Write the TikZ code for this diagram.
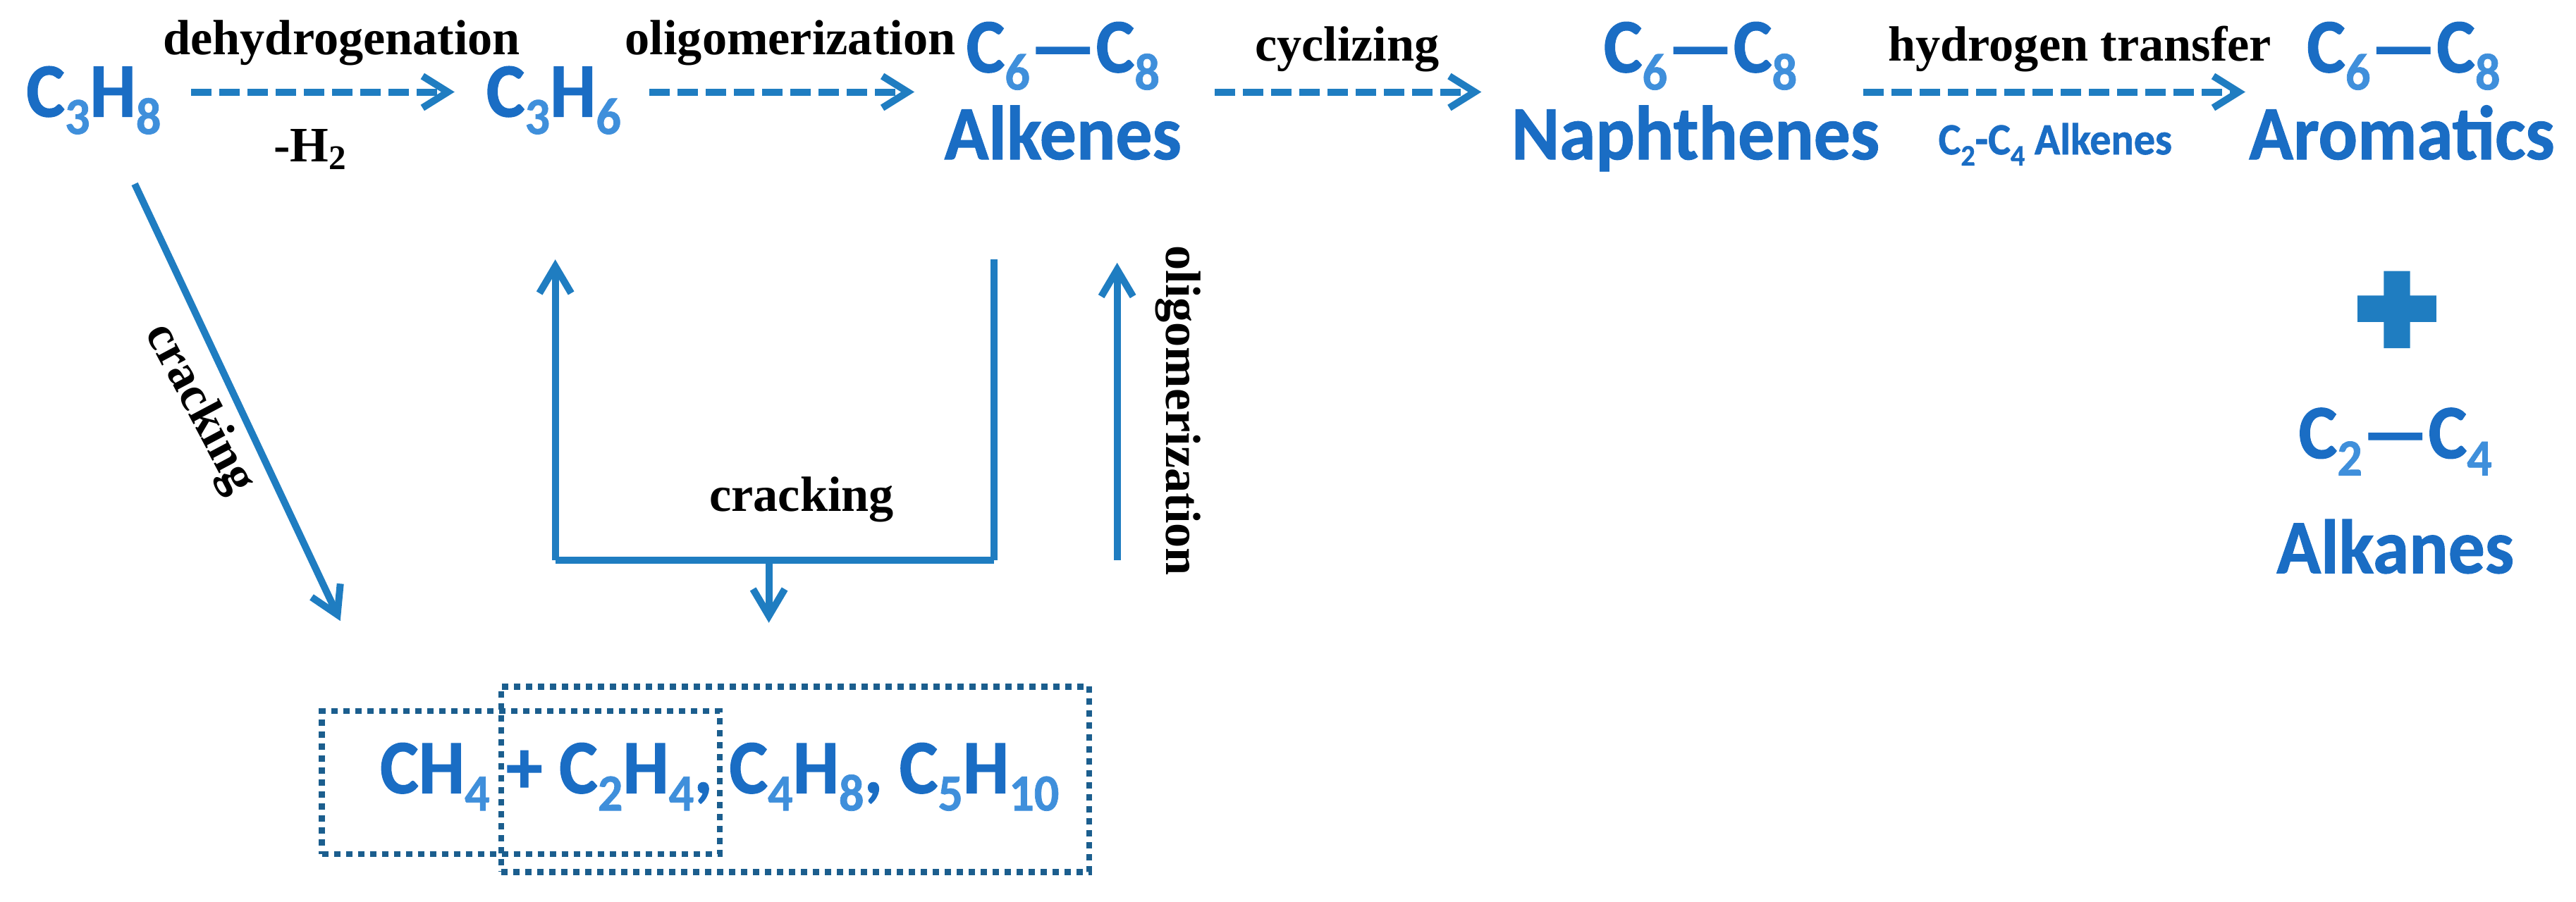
\documentclass[tikz,border=0pt]{standalone}
\usepackage{fontspec}
\setmainfont{Liberation Serif}
\newfontfamily\formulafont[FakeStretch=0.95,BoldFeatures={FakeBold=1}]{Carlito}
\usetikzlibrary{arrows.meta}
\definecolor{flowblue}{HTML}{1F7DC1}
\definecolor{formulablue}{HTML}{1A6DC4}
\definecolor{subblue}{HTML}{3F8FDB}
\definecolor{boxblue}{HTML}{1B5E8E}
\newcommand{\csub}[1]{\raisebox{-7pt}{\fontsize{21}{21}\selectfont\color{subblue}#1}}
\newcommand{\ssub}[1]{\raisebox{-0.25em}{\fontsize{12}{12}\selectfont #1}}
\begin{document}
\begin{tikzpicture}[x=0.0233cm,y=-0.0233cm,
    formula/.style ={anchor=base, inner sep=0pt, text=formulablue, font=\formulafont\bfseries\fontsize{31}{31}\selectfont},
    smallformula/.style ={anchor=base, inner sep=0pt, text=formulablue, font=\formulafont\bfseries\fontsize{18}{18}\selectfont},
    reaction/.style ={inner sep=0pt, text=black, font=\bfseries\fontsize{20}{22}\selectfont},
    flow/.style ={draw=flowblue, line width=1mm, dash pattern=on 2.9mm off 1.1mm, -{Straight Barb[length=3.6mm,width=4.5mm]}},
    solidflow/.style ={draw=flowblue, line width=1mm, -{Straight Barb[length=3.8mm,width=4.5mm]}},
    solidline/.style ={draw=flowblue, line width=1mm},
    product/.style ={draw=boxblue, line width=0.85mm, dash pattern=on 0.9mm off 0.8mm, inner sep=0pt}]
   \useasboundingbox (0,0) rectangle (1568,549);
   % product boxes
   \node[product, minimum width=5.64cm, minimum height=2.03cm] (lightbox) at (317,476.5) {};
   \node[product, minimum width=8.34cm, minimum height=2.63cm] (heavybox) at (484,474.5) {};
   % top row
   \node[formula] (C3H8) at (57,71) {C\csub{3}H\csub{8}};
   \node[formula] (C3H6) at (337,71) {C\csub{3}H\csub{6}};
   \node[formula] (alkenetop) at (647,44) {C\csub{6}—C\csub{8}};
   \node[formula] (alkene) at (647,97) {Alkenes};
   \node[formula] (naphthenetop) at (1035,44) {C\csub{6}—C\csub{8}};
   \node[formula] (naphthene) at (1032,97) {Naphthenes};
   \node[formula] (aromatictop) at (1463,44) {C\csub{6}—C\csub{8}};
   \node[formula] (aromatic) at (1462,97) {Aromatics};
   % alkanes
   \fill[flowblue] (1451,165) -- (1467,165) -- (1467,180) -- (1483,180) -- (1483,196) -- (1467,196)
      -- (1467,212) -- (1451,212) -- (1451,196) -- (1435,196) -- (1435,180) -- (1451,180) -- cycle;
   \node[formula] (alkanetop) at (1458,279) {C\csub{2}—C\csub{4}};
   \node[formula] (alkane) at (1458,349) {Alkanes};
   % bottom products
   \node[formula] (products) at (438,483) {CH\csub{4} + C\csub{2}H\csub{4}, C\csub{4}H\csub{8}, C\csub{5}H\csub{10}};
   % labels
   \node[reaction] (dehydro) at (208,26) {dehydrogenation};
   \node[reaction] (minusH) at (189,91) {-H\textsubscript{2}};
   \node[reaction] (oligotop) at (481,26) {oligomerization};
   \node[reaction] (cyclize) at (820,30) {cyclizing};
   \node[reaction] (transfer) at (1266,30) {hydrogen transfer};
   \node[smallformula] (butene) at (1251,94) {C\ssub{2}-C\ssub{4} Alkenes};
   \node[reaction, rotate=-62] (crackleft) at (121,249) {cracking};
   \node[reaction] (crackmid) at (488,304) {cracking};
   \node[reaction, rotate=-90] (oligoright) at (717,250) {oligomerization};
   % corners of the cracking tray
   \coordinate (trayleft) at (338,341);
   \coordinate (trayright) at (605,341);
   \coordinate (traymid) at (468,341);
   \coordinate (riser) at (680,341);
   % connectors
   \draw[flow] ([shift={(18,-15)}]C3H8.base east) to ([shift={(-19,-15)}]C3H6.base west);
   \draw[flow] ([shift={(17,-15)}]C3H6.base east) to ([shift={(-18,-41)}]alkene.base west);
   \draw[flow] ([shift={(20,-41)}]alkene.base east) to ([shift={(-18,-41)}]naphthene.base west);
   \draw[flow] ([shift={(-10,-41)}]naphthene.base east) to ([shift={(-2,-41)}]aromatic.base west);
   \draw[solidflow] ([shift={(25,41)}]C3H8.base) to ([shift={(13,-53)}]lightbox.north west);
   \draw[solidflow] (trayleft) to ([shift={(1,87)}]C3H6.base);
   \draw[solidline] ([shift={(-42,61)}]alkene.base) to (trayright);
   \draw[solidline] (trayleft) to (trayright);
   \draw[solidflow] (traymid) to ([shift={(-16,-37)}]heavybox.north);
   \draw[solidflow] (riser) to ([shift={(33,63)}]alkene.base);
\end{tikzpicture}
\end{document}
